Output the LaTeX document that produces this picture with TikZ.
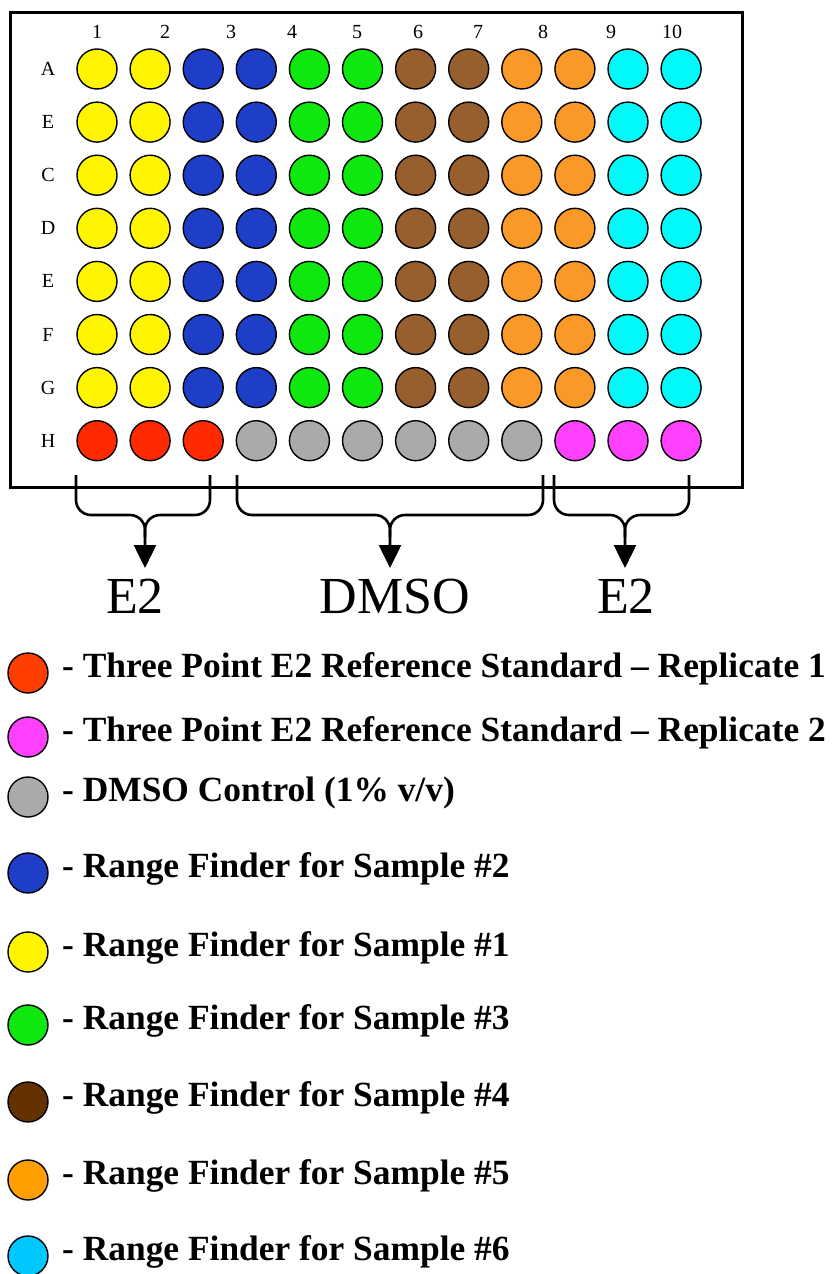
\documentclass[tikz,border=0pt]{standalone}
\usepackage{fontspec}
\setmainfont{Liberation Serif}
\usetikzlibrary{arrows.meta}

\definecolor{wyellow}{RGB}{255,245,0}
\definecolor{wblue}{RGB}{30,62,200}
\definecolor{wgreen}{RGB}{15,232,15}
\definecolor{wbrown}{RGB}{150,95,45}
\definecolor{worange}{RGB}{250,152,40}
\definecolor{wcyan}{RGB}{0,250,250}
\definecolor{wred}{RGB}{255,42,0}
\definecolor{wgray}{RGB}{170,170,170}
\definecolor{wpink}{RGB}{255,64,255}
\definecolor{kbrown}{RGB}{100,50,0}
\definecolor{korange}{RGB}{255,158,0}
\definecolor{kcyan}{RGB}{0,200,255}
\definecolor{kred}{RGB}{255,62,0}

\begin{document}
\begin{tikzpicture}[x=1pt,y=-1pt,
  well/.style={circle,draw=black,line width=1.4pt,minimum size=40pt,inner sep=0pt},
  lbl/.style={font=\fontsize{20}{24}\selectfont,inner sep=0pt},
  key/.style={font=\fontsize{35.4}{40}\selectfont\bfseries,anchor=base west,inner sep=0pt},
  group/.style={font=\fontsize{52}{60}\selectfont,anchor=north,inner sep=0pt},
  brace/.style={line width=2.6pt,rounded corners=15pt}]
\useasboundingbox (0,0) rectangle (832,1274);

% plate
\draw[line width=3pt] (10,12) rectangle (742,487);

% column and row labels
\foreach \n/\x in {1/97,2/165,3/231,4/292,5/357,6/418,7/478,8/543,9/611,10/672}
  \node[lbl] (col\n) at (\x,32) {\n};
\foreach \r/\t [count=\i] in {A/A,B/E,C/C,D/D,E/E,F/F,G/G,H/H}
  \node[lbl] (row\r) at (48,{69+53.1*(\i-1)}) {\t};

% wells A to G
\foreach \r [count=\i] in {A,B,C,D,E,F,G}
  \foreach \c/\col in {1/wyellow,2/wyellow,3/wblue,4/wblue,5/wgreen,6/wgreen,
                       7/wbrown,8/wbrown,9/worange,10/worange,11/wcyan,12/wcyan}
    \node[well,fill=\col] (\r\c) at ({97+53.1*(\c-1)},{69+53.1*(\i-1)}) {};
% row H
\foreach \c/\col in {1/wred,2/wred,3/wred,4/wgray,5/wgray,6/wgray,
                     7/wgray,8/wgray,9/wgray,10/wpink,11/wpink,12/wpink}
  \node[well,fill=\col] (H\c) at ({97+53.1*(\c-1)},440.7) {};

% group labels
\node[group] (e2a) at (135,579) {E2};
\node[group] (dmso) at (395,579) {DMSO};
\node[group] (e2b) at (626,579) {E2};

% braces
\coordinate (b1a) at (76,475);  \coordinate (b1b) at (210,475); \coordinate (b1m) at (145,515);
\coordinate (b2a) at (237,475); \coordinate (b2b) at (543,475); \coordinate (b2m) at (390,515);
\coordinate (b3a) at (554,475); \coordinate (b3b) at (689,475); \coordinate (b3m) at (625,515);
\foreach \b/\t in {b1/e2a,b2/dmso,b3/e2b}{
  \draw[brace,-{Triangle[length=23pt,width=22pt]},shorten >=11pt]
    (\b a) |- (\b m) -- (\b m |- \t.north);
  \draw[brace] (\b b) |- (\b m) -- ++(0,22);
}

% legend
\foreach \col/\y/\txt [count=\k] in {
    kred/673/{- Three Point E2 Reference Standard -- Replicate 1},
    wpink/737/{- Three Point E2 Reference Standard -- Replicate 2},
    wgray/797/{- DMSO Control (1\% v/v)},
    wblue/873/{- Range Finder for Sample \#2},
    wyellow/952/{- Range Finder for Sample \#1},
    wgreen/1025/{- Range Finder for Sample \#3},
    kbrown/1102/{- Range Finder for Sample \#4},
    korange/1180/{- Range Finder for Sample \#5},
    kcyan/1256/{- Range Finder for Sample \#6}}{
  \node[well,fill=\col] (dot\k) at (28,\y) {};
  \node[key] (txt\k) at (62,\y+4) {\txt};
}
\end{tikzpicture}
\end{document}
